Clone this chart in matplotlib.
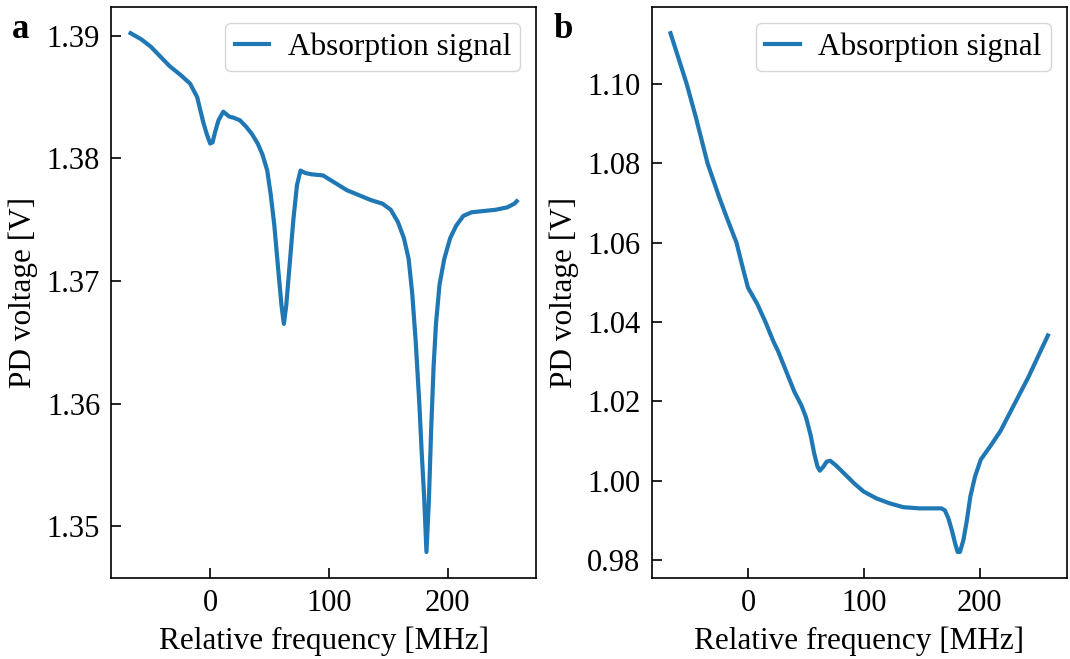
import numpy as np
import matplotlib.pyplot as plt

plt.rcParams['font.family'] = 'serif'
plt.rcParams['font.serif'] = ['Liberation Serif', 'DejaVu Serif']
plt.rcParams['mathtext.fontset'] = 'dejavuserif'

# panel a: absorption signal (MHz, V)
freq_a = [-67, -58, -50, -42, -34, -25, -17, -11, -6, -3, 0, 2, 4, 7, 11, 16, 20, 25, 30, 35,
          40, 44, 48, 51, 54, 57, 60, 62, 64, 67, 70, 73, 76, 80, 85, 95, 105, 115, 125, 135,
          145, 152, 158, 163, 167, 170, 173, 176, 178, 180, 182, 184, 186, 188, 190, 193,
          197, 202, 207, 213, 220, 230, 240, 250, 256, 258]
volt_a = [1.3902, 1.3897, 1.3891, 1.3883, 1.3875, 1.3868, 1.3861, 1.3850, 1.3830, 1.3820,
          1.3812, 1.3813, 1.3821, 1.3831, 1.3838, 1.3834, 1.3833, 1.3831, 1.3826, 1.3820,
          1.3812, 1.3803, 1.3790, 1.3770, 1.3745, 1.3712, 1.3680, 1.3665, 1.3680, 1.3715,
          1.3750, 1.3778, 1.3790, 1.3788, 1.3787, 1.3786, 1.3780, 1.3774, 1.3770, 1.3766,
          1.3763, 1.3758, 1.3748, 1.3735, 1.3718, 1.3690, 1.3650, 1.3600, 1.3560, 1.3525,
          1.3479, 1.3520, 1.3580, 1.3630, 1.3665, 1.3697, 1.3718, 1.3735, 1.3745, 1.3753,
          1.3756, 1.3757, 1.3758, 1.3760, 1.3763, 1.3765]

# panel b: absorption signal (MHz, V)
freq_b = [-67, -53, -45, -35, -25, -18, -10, -4, 0, 8, 15, 22, 26, 33, 40, 46, 50, 54, 57,
          60, 62, 65, 68, 71, 76, 83, 92, 100, 111, 122, 134, 148, 162, 167, 170, 173, 176,
          179, 181, 183, 186, 189, 192, 196, 201, 210, 218, 226, 234, 242, 250, 259]
volt_b = [1.1128, 1.1000, 1.0915, 1.0800, 1.0715, 1.0660, 1.0600, 1.0530, 1.0486, 1.0445,
          1.0400, 1.0350, 1.0326, 1.0275, 1.0224, 1.0190, 1.0160, 1.0115, 1.0070, 1.0035,
          1.0025, 1.0035, 1.0048, 1.0050, 1.0038, 1.0018, 0.9992, 0.9972, 0.9955, 0.9943,
          0.9933, 0.9930, 0.9930, 0.9930, 0.9925, 0.9905, 0.9875, 0.9840, 0.9820, 0.9820,
          0.9850, 0.9900, 0.9960, 1.0010, 1.0053, 1.0090, 1.0125, 1.0170, 1.0215, 1.0260,
          1.0310, 1.0366]

fig = plt.figure(figsize=(10.7, 6.59), dpi=100)
ax_a = fig.add_axes([0.104, 0.123, 0.397, 0.866])
ax_b = fig.add_axes([0.609, 0.123, 0.388, 0.866])

for ax, f, v in [(ax_a, freq_a, volt_a), (ax_b, freq_b, volt_b)]:
    ax.plot(f, v, color='#1f77b4', lw=3, label='Absorption signal')
    ax.set_xlabel('Relative frequency [MHz]', fontsize=22.5, labelpad=6)
    ax.set_ylabel('PD voltage [V]', fontsize=22.5, labelpad=6)
    ax.tick_params(direction='in', length=7, width=1.2, labelsize=22, pad=8)
    ax.set_xticks([0, 100, 200])
    ax.legend(loc='upper right', fontsize=22.5, handlelength=1.1, borderpad=0.3,
              handletextpad=0.6, borderaxespad=0.5)
    for s in ax.spines.values():
        s.set_linewidth(1.2)

ax_a.set_yticks([1.35, 1.36, 1.37, 1.38, 1.39])
ax_b.set_yticks([0.98, 1.00, 1.02, 1.04, 1.06, 1.08, 1.10])

fig.text(0.011, 1 - 38 / 659, 'a', fontsize=25, fontweight='bold', va='baseline')
fig.text(0.517, 1 - 38 / 659, 'b', fontsize=25, fontweight='bold', va='baseline')

fig.savefig('out.png', dpi=100)
